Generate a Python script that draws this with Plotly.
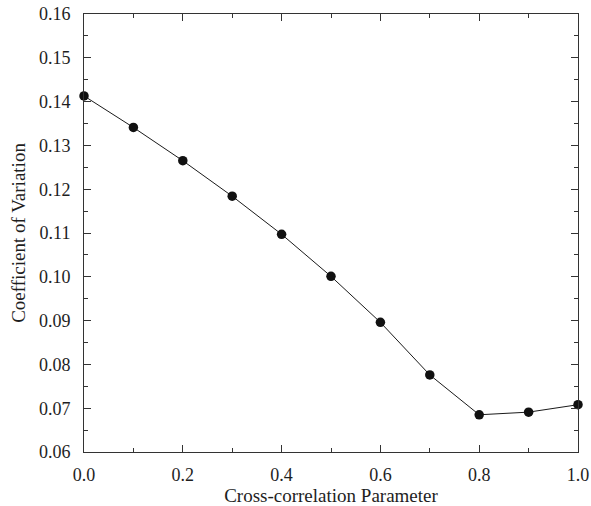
import plotly.graph_objects as go

x_vals = [0.0, 0.1, 0.2, 0.3, 0.4, 0.5, 0.6, 0.7, 0.8, 0.9, 1.0]
cv_vals = [0.1413, 0.1341, 0.1265, 0.1184, 0.1097, 0.1001, 0.0896, 0.0776, 0.0685, 0.0691, 0.0708]

x_ticks = [0.0, 0.2, 0.4, 0.6, 0.8, 1.0]
x_ticktext = ["0.0", "0.2", "0.4", "0.6", "0.8", "1.0"]
y_ticks = [0.06, 0.07, 0.08, 0.09, 0.10, 0.11, 0.12, 0.13, 0.14, 0.15, 0.16]
y_ticktext = ["0.06", "0.07", "0.08", "0.09", "0.10", "0.11", "0.12", "0.13", "0.14", "0.15", "0.16"]

font_family = "Liberation Serif"

fig = go.Figure()
fig.add_trace(go.Scatter(
    x=x_vals, y=cv_vals, mode="lines+markers",
    line=dict(color="#1a1a1a", width=1),
    marker=dict(color="#111111", size=9.5),
    cliponaxis=False,
    showlegend=False,
))

axis_common = dict(
    showline=True, linecolor="#333333", linewidth=1, mirror="allticks",
    ticks="inside", ticklen=7, tickcolor="#333333", tickwidth=1,
    showgrid=False, zeroline=False, automargin=False,
    tickfont=dict(family=font_family, size=18, color="#1e1e1e"),
)

fig.update_xaxes(
    range=[0, 1], tickvals=x_ticks, ticktext=x_ticktext,
    minor=dict(dtick=0.1, tick0=0, ticks="inside", ticklen=4, tickcolor="#333333", showgrid=False),
    ticklabelstandoff=6,
    title=dict(text="Cross-correlation Parameter", font=dict(family=font_family, size=19, color="#1e1e1e"), standoff=5),
    **axis_common,
)
fig.update_yaxes(
    range=[0.06, 0.16], tickvals=y_ticks, ticktext=y_ticktext,
    minor=dict(dtick=0.005, tick0=0.06, ticks="inside", ticklen=4, tickcolor="#333333", showgrid=False),
    ticklabelstandoff=9,
    title=dict(text="Coefficient of Variation", font=dict(family=font_family, size=19, color="#1e1e1e"), standoff=8),
    **axis_common,
)

fig.update_layout(
    width=591, height=506,
    margin=dict(l=84, r=13, t=14, b=54),
    paper_bgcolor="white", plot_bgcolor="white",
)

fig.write_html("out.html", config={"displayModeBar": False},
               post_script="document.body.style.margin='0';")
